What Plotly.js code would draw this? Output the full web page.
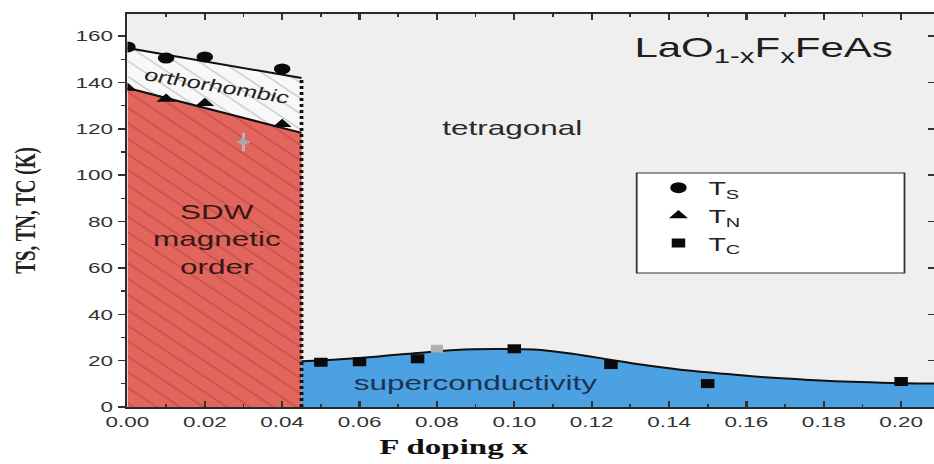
<!DOCTYPE html>
<html>
<head>
<meta charset="utf-8">
<script src="https://cdn.plot.ly/plotly-3.0.1.min.js"></script>
<style>
  html, body { margin: 0; padding: 0; background: #ffffff; overflow: hidden; }
  #wrap { width: 934px; height: 464px; overflow: hidden; }
  #chart { width: 623px; height: 464px; transform: scaleX(1.4992); transform-origin: 0 0; }
</style>
</head>
<body>
<div id="wrap"><div id="chart"></div></div>
<script>
// ---- data ----
const tsX = [0.0, 0.01, 0.02, 0.04];
const tsY = [155.3, 150.5, 151.0, 145.8];
const tnX = [0.0, 0.01, 0.02, 0.04];
const tnY = [137.6, 132.8, 131.0, 122.0];
const tcX = [0.05, 0.06, 0.075, 0.10, 0.125, 0.15, 0.20];
const tcY = [19.3, 19.5, 20.8, 25.1, 18.3, 10.1, 11.0];
const tcGrayX = [0.08];
const tcGrayY = [25.1];
const otherX = [0.03];
const otherY = [114.3];

// phase boundary lines
const tsLineX = [0.0, 0.045];
const tsLineY = [154.8, 141.9];
const tnLineX = [0.0, 0.045];
const tnLineY = [137.6, 118.2];
const sdwEdgeX = [0.045, 0.045];
const sdwEdgeY = [0, 141.9];
// superconducting dome (fitted curve)
const tcFitX = [0.045, 0.055, 0.065, 0.075, 0.085, 0.095, 0.105, 0.115, 0.125, 0.135, 0.145, 0.155, 0.165, 0.175, 0.185, 0.195, 0.2085];
const tcFitY = [19.7, 20.6, 21.8, 23.3, 24.6, 25.0, 24.8, 23.0, 20.3, 17.8, 15.7, 14.2, 12.8, 11.8, 11.0, 10.5, 10.1];

const xTicks = [0, 0.02, 0.04, 0.06, 0.08, 0.10, 0.12, 0.14, 0.16, 0.18, 0.20];
const yTicks = [0, 20, 40, 60, 80, 100, 120, 140, 160];
const xRange = [0, 0.2085];
const yRange = [0, 169.5];

const traces = [
  { // SDW region
    x: tnLineX, y: tnLineY, type: 'scatter', mode: 'lines',
    line: {color: '#111', width: 2}, fill: 'tozeroy', fillcolor: '#e2665d',
    fillpattern: {shape: '\\', bgcolor: '#e2665d', fgcolor: '#c95149', size: 11, solidity: 0.12},
    showlegend: false, hoverinfo: 'skip'
  },
  { // orthorhombic region
    x: tsLineX, y: tsLineY, type: 'scatter', mode: 'lines',
    line: {color: '#111', width: 2}, fill: 'tonexty', fillcolor: '#f8f8f8',
    fillpattern: {shape: '\\', bgcolor: '#f8f8f8', fgcolor: '#c4c4c4', size: 11, solidity: 0.1},
    showlegend: false, hoverinfo: 'skip'
  },
  { // superconducting dome
    x: tcFitX, y: tcFitY, type: 'scatter', mode: 'lines',
    line: {color: '#111', width: 2, shape: 'spline'}, fill: 'tozeroy', fillcolor: '#4ba1e2',
    showlegend: false, hoverinfo: 'skip'
  },
  { // dotted SDW boundary
    x: sdwEdgeX, y: sdwEdgeY, type: 'scatter', mode: 'lines',
    line: {color: '#111', width: 2.5, dash: 'dot'}, showlegend: false, hoverinfo: 'skip'
  },
  {
    x: otherX, y: otherY, type: 'scatter', mode: 'markers',
    marker: {symbol: 'diamond', size: 6, color: '#a8a8a8'},
    error_y: {type: 'constant', value: 4, color: '#b5b5b5', thickness: 2, width: 0},
    error_x: {type: 'constant', value: 0.0016, color: '#b5b5b5', thickness: 2, width: 0},
    showlegend: false, yaxis: 'y2'
  },
  {
    x: tsX, y: tsY, type: 'scatter', mode: 'markers', name: 'T<sub>S</sub>', legendgroup: 'a',
    marker: {symbol: 'circle', size: 11, color: '#0a0a0a'}
  },
  {
    x: tnX, y: tnY, type: 'scatter', mode: 'markers', name: 'T<sub>N</sub>', legendgroup: 'b',
    marker: {symbol: 'triangle-up', size: 11, color: '#0a0a0a'}
  },
  {
    x: tcX, y: tcY, type: 'scatter', mode: 'markers', name: 'T<sub>C</sub>', legendgroup: 'c',
    marker: {symbol: 'square', size: 9, color: '#0a0a0a'}
  },
  {
    x: tcGrayX, y: tcGrayY, type: 'scatter', mode: 'markers',
    marker: {symbol: 'square', size: 8, color: '#b0b0b0'}, showlegend: false
  }
];

const tickFont = {family: 'Liberation Sans, Arial, sans-serif', size: 15, color: '#333'};
const layout = {
  width: 623, height: 464,
  margin: {l: 85, r: 0, t: 14, b: 57},
  paper_bgcolor: '#ffffff',
  plot_bgcolor: '#efefef',
  font: {family: 'Liberation Sans, Arial, sans-serif', color: '#222'},
  title: {
    text: 'LaO<sub>1-x</sub>F<sub>x</sub>FeAs',
    font: {family: 'Liberation Sans, Arial, sans-serif', size: 28, color: '#1e1e1e'},
    xref: 'paper', yref: 'paper', x: 0.7887, y: 0.915, xanchor: 'center', yanchor: 'middle'
  },
  xaxis: {
    range: xRange, tickvals: xTicks, tickformat: '.2f',
    ticks: 'inside', ticklen: 6, tickwidth: 1.5, tickcolor: '#333',
    minor: {dtick: 0.01, ticks: 'inside', ticklen: 3, tickwidth: 1.2, tickcolor: '#333'},
    showline: true, linecolor: '#2a2a2a', linewidth: 1.6, mirror: 'ticks',
    showgrid: false, zeroline: false, tickfont: tickFont
  },
  yaxis: {
    range: yRange, tickvals: yTicks,
    ticks: 'outside', ticklen: 5, tickwidth: 1.5, tickcolor: '#333',
    minor: {dtick: 10, ticks: 'outside', ticklen: 3, tickwidth: 1.2, tickcolor: '#333'},
    showline: true, linecolor: '#2a2a2a', linewidth: 1.6, mirror: false,
    showgrid: false, zeroline: false, tickfont: tickFont,
    title: {text: 'TS, TN, TC (K)', standoff: 21,
      font: {family: 'Liberation Serif, Times New Roman, serif', size: 19, color: '#222', weight: 'bold'}}
  },
  yaxis2: {
    range: yRange, tickvals: yTicks, overlaying: 'y', side: 'right',
    ticks: 'inside', ticklen: 4, tickwidth: 1.5, tickcolor: '#333',
    showticklabels: false, showline: false, showgrid: false, zeroline: false
  },
  legend: {
    x: 0.646, y: 0.606, xanchor: 'left', yanchor: 'top',
    traceorder: 'normal', tracegroupgap: 8,
    bgcolor: 'rgba(0,0,0,0)', borderwidth: 0,
    font: {family: 'Liberation Sans, Arial, sans-serif', size: 19, color: '#222'}
  },
  shapes: [
    {type: 'rect', xref: 'paper', yref: 'paper', x0: 0.6314, x1: 0.9634, y0: 0.341, y1: 0.5954,
     fillcolor: '#ffffff', line: {color: '#333', width: 1.2}, layer: 'above'}
  ],
  annotations: [
    {text: 'orthorhombic', x: 0.0232, y: 138.2, xref: 'x', yref: 'y', showarrow: false, textangle: 14,
     font: {family: 'Liberation Sans, Arial, sans-serif', size: 17, color: '#222'}},
    {text: 'SDW<br>magnetic<br>order', x: 0.0229, y: 72.5, xref: 'x', yref: 'y', showarrow: false,
     font: {family: 'Liberation Sans, Arial, sans-serif', size: 21, color: '#361816'}},
    {text: 'tetragonal', x: 0.0993, y: 120.4, xref: 'x', yref: 'y', showarrow: false,
     font: {family: 'Liberation Sans, Arial, sans-serif', size: 21, color: '#2a2a2a'}},
    {text: 'superconductivity', x: 0.0902, y: 10.5, xref: 'x', yref: 'y', showarrow: false,
     font: {family: 'Liberation Sans, Arial, sans-serif', size: 21, color: '#1c3350'}},
    {text: 'F doping x', x: 0.405, y: -0.1, xref: 'paper', yref: 'paper', yanchor: 'middle', showarrow: false,
     font: {family: 'Liberation Serif, Times New Roman, serif', size: 22, color: '#111', weight: 'bold'}}
  ]
};

Plotly.newPlot('chart', traces, layout, {staticPlot: true, displayModeBar: false});
</script>
</body>
</html>
